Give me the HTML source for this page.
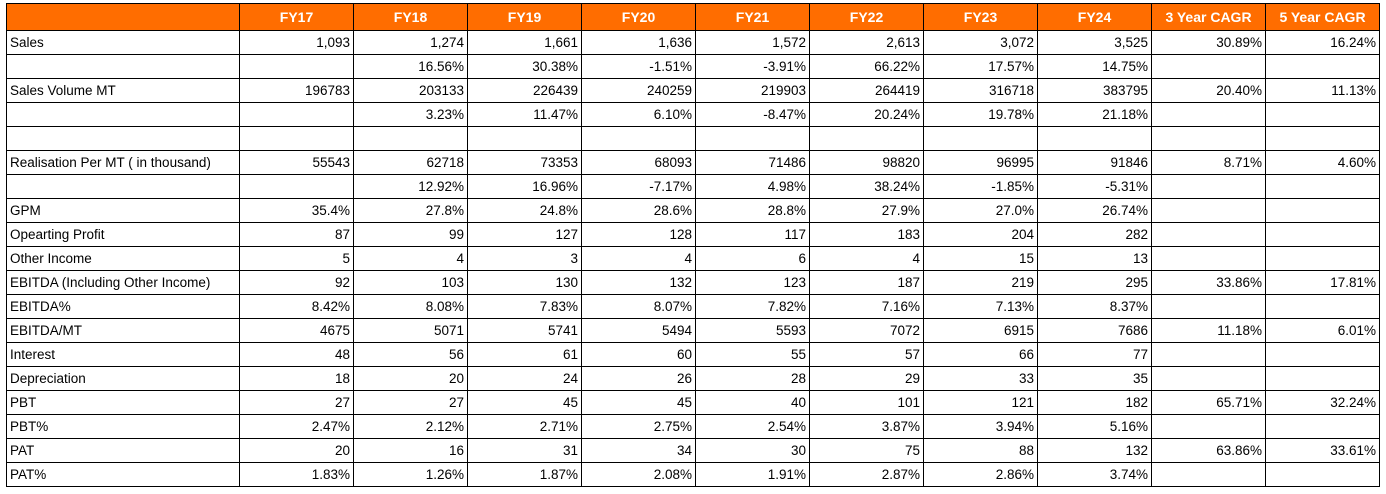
<!DOCTYPE html>
<html><head><meta charset="utf-8"><style>
html,body{margin:0;padding:0;background:#fff;width:1386px;height:494px;overflow:hidden}
table{position:absolute;left:6px;top:3px;border-collapse:collapse;table-layout:fixed;font-family:"Liberation Sans",Arial,sans-serif;font-size:13.5px;color:#000}
td,th{border:1px solid #000;padding:0 3px;height:23px;line-height:22px;white-space:nowrap;overflow:hidden}
th{background:#ff6d00;color:#fff;font-weight:bold;font-size:14px;height:26px;text-align:center}
td{text-align:right}
td.l{text-align:left}
</style></head><body>
<table>
<colgroup><col style="width:233px"><col style="width:114px"><col style="width:114px"><col style="width:114px"><col style="width:114px"><col style="width:114px"><col style="width:114px"><col style="width:114px"><col style="width:114px"><col style="width:114px"><col style="width:114px"></colgroup>
<tr><th></th><th>FY17</th><th>FY18</th><th>FY19</th><th>FY20</th><th>FY21</th><th>FY22</th><th>FY23</th><th>FY24</th><th>3 Year CAGR</th><th>5 Year CAGR</th></tr>
<tr><td class="l">Sales</td><td>1,093</td><td>1,274</td><td>1,661</td><td>1,636</td><td>1,572</td><td>2,613</td><td>3,072</td><td>3,525</td><td>30.89%</td><td>16.24%</td></tr>
<tr><td class="l"></td><td></td><td>16.56%</td><td>30.38%</td><td>-1.51%</td><td>-3.91%</td><td>66.22%</td><td>17.57%</td><td>14.75%</td><td></td><td></td></tr>
<tr><td class="l">Sales Volume MT</td><td>196783</td><td>203133</td><td>226439</td><td>240259</td><td>219903</td><td>264419</td><td>316718</td><td>383795</td><td>20.40%</td><td>11.13%</td></tr>
<tr><td class="l"></td><td></td><td>3.23%</td><td>11.47%</td><td>6.10%</td><td>-8.47%</td><td>20.24%</td><td>19.78%</td><td>21.18%</td><td></td><td></td></tr>
<tr><td class="l"></td><td></td><td></td><td></td><td></td><td></td><td></td><td></td><td></td><td></td><td></td></tr>
<tr><td class="l">Realisation Per MT ( in thousand)</td><td>55543</td><td>62718</td><td>73353</td><td>68093</td><td>71486</td><td>98820</td><td>96995</td><td>91846</td><td>8.71%</td><td>4.60%</td></tr>
<tr><td class="l"></td><td></td><td>12.92%</td><td>16.96%</td><td>-7.17%</td><td>4.98%</td><td>38.24%</td><td>-1.85%</td><td>-5.31%</td><td></td><td></td></tr>
<tr><td class="l">GPM</td><td>35.4%</td><td>27.8%</td><td>24.8%</td><td>28.6%</td><td>28.8%</td><td>27.9%</td><td>27.0%</td><td>26.74%</td><td></td><td></td></tr>
<tr><td class="l">Opearting Profit</td><td>87</td><td>99</td><td>127</td><td>128</td><td>117</td><td>183</td><td>204</td><td>282</td><td></td><td></td></tr>
<tr><td class="l">Other Income</td><td>5</td><td>4</td><td>3</td><td>4</td><td>6</td><td>4</td><td>15</td><td>13</td><td></td><td></td></tr>
<tr><td class="l">EBITDA (Including Other Income)</td><td>92</td><td>103</td><td>130</td><td>132</td><td>123</td><td>187</td><td>219</td><td>295</td><td>33.86%</td><td>17.81%</td></tr>
<tr><td class="l">EBITDA%</td><td>8.42%</td><td>8.08%</td><td>7.83%</td><td>8.07%</td><td>7.82%</td><td>7.16%</td><td>7.13%</td><td>8.37%</td><td></td><td></td></tr>
<tr><td class="l">EBITDA/MT</td><td>4675</td><td>5071</td><td>5741</td><td>5494</td><td>5593</td><td>7072</td><td>6915</td><td>7686</td><td>11.18%</td><td>6.01%</td></tr>
<tr><td class="l">Interest</td><td>48</td><td>56</td><td>61</td><td>60</td><td>55</td><td>57</td><td>66</td><td>77</td><td></td><td></td></tr>
<tr><td class="l">Depreciation</td><td>18</td><td>20</td><td>24</td><td>26</td><td>28</td><td>29</td><td>33</td><td>35</td><td></td><td></td></tr>
<tr><td class="l">PBT</td><td>27</td><td>27</td><td>45</td><td>45</td><td>40</td><td>101</td><td>121</td><td>182</td><td>65.71%</td><td>32.24%</td></tr>
<tr><td class="l">PBT%</td><td>2.47%</td><td>2.12%</td><td>2.71%</td><td>2.75%</td><td>2.54%</td><td>3.87%</td><td>3.94%</td><td>5.16%</td><td></td><td></td></tr>
<tr><td class="l">PAT</td><td>20</td><td>16</td><td>31</td><td>34</td><td>30</td><td>75</td><td>88</td><td>132</td><td>63.86%</td><td>33.61%</td></tr>
<tr><td class="l">PAT%</td><td>1.83%</td><td>1.26%</td><td>1.87%</td><td>2.08%</td><td>1.91%</td><td>2.87%</td><td>2.86%</td><td>3.74%</td><td></td><td></td></tr>
</table>
</body></html>
